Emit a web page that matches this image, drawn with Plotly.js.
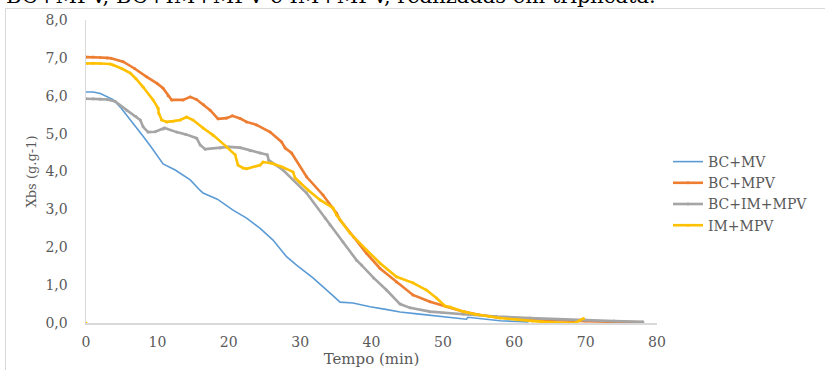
<!DOCTYPE html>
<html>
<head>
<meta charset="utf-8">
<script src="https://cdn.plot.ly/plotly-3.0.1.min.js"></script>
<style>
  html, body { margin: 0; padding: 0; background: #ffffff; }
  #chart { width: 825px; height: 370px; }
</style>
</head>
<body>
<div id="chart"></div>
<script>
// ---- Data ----
const seriesNames = ["BC+MV", "BC+MPV", "BC+IM+MPV", "IM+MPV"];

const tBCMV = [0, 1, 2, 3, 3.8, 4.8, 6, 7, 8, 9, 10, 10.8, 12.5, 14.6, 16, 16.4, 18.4, 20.6, 22.5, 24.4, 26.2, 28.1, 29.5, 31.8, 34.2, 35.6, 37.4, 39.8, 42, 44, 46.4, 48.5, 50.5, 53.3, 53.5, 56, 58, 60.4, 62];
const xBCMV = [6.1, 6.1, 6.06, 5.98, 5.9, 5.7, 5.42, 5.18, 4.93, 4.68, 4.42, 4.2, 4.04, 3.78, 3.5, 3.43, 3.27, 2.98, 2.77, 2.5, 2.19, 1.75, 1.53, 1.19, 0.79, 0.55, 0.53, 0.43, 0.36, 0.29, 0.24, 0.2, 0.17, 0.1, 0.15, 0.09, 0.06, 0.04, 0.03];

const tBCMPV = [0, 1, 2, 3, 3.5, 5.2, 6.8, 8.5, 10, 10.8, 11.5, 12, 13.6, 14.6, 15.5, 16.5, 17.4, 18.5, 19.7, 20.5, 21.6, 22.5, 23.9, 25.8, 27.4, 27.9, 28.8, 30.9, 33.2, 35.1, 35.6, 37.5, 39.3, 41.2, 43.5, 45.8, 48.2, 50.5, 52.9, 55, 57.5, 62.2, 66, 70, 74, 78];
const xBCMPV = [7.02, 7.02, 7.01, 7.0, 6.99, 6.9, 6.72, 6.5, 6.32, 6.2, 6.0, 5.89, 5.89, 5.97, 5.9, 5.76, 5.62, 5.39, 5.41, 5.47, 5.4, 5.31, 5.23, 5.04, 4.78, 4.62, 4.49, 3.86, 3.38, 2.9, 2.72, 2.27, 1.84, 1.44, 1.08, 0.74, 0.56, 0.43, 0.3, 0.22, 0.15, 0.1, 0.07, 0.05, 0.03, 0.02];

const tBCIMMPV = [0, 1, 2, 3, 4.1, 5.7, 7, 7.6, 8, 8.7, 9.7, 10.8, 11, 12.7, 14, 15.5, 16, 16.7, 18.8, 20, 21.6, 23, 24.4, 25.4, 25.6, 27.6, 30.9, 33.5, 34.2, 36, 37.9, 38.6, 40.3, 42.1, 44, 45.4, 48.2, 52.9, 57.5, 62.2, 66, 70, 74, 78];
const xBCIMMPV = [5.92, 5.92, 5.91, 5.9, 5.85, 5.62, 5.45, 5.36, 5.18, 5.04, 5.05, 5.12, 5.15, 5.04, 4.98, 4.88, 4.7, 4.59, 4.62, 4.65, 4.63, 4.55, 4.49, 4.44, 4.3, 4.04, 3.43, 2.77, 2.59, 2.14, 1.66, 1.53, 1.19, 0.87, 0.5, 0.4, 0.3, 0.23, 0.17, 0.13, 0.1, 0.08, 0.05, 0.03];

// first point (0; 0) is an isolated point, separated from the curve by a gap
const tIMMPV = [0, 0, 0, 1, 2, 3.4, 3.8, 5, 6.2, 7, 8, 9.4, 10.1, 10.2, 10.6, 11.3, 12.2, 13.2, 14.1, 15, 16.4, 17.8, 19.7, 20.9, 21.3, 22, 22.5, 24.4, 24.8, 26, 27.5, 29, 29.3, 30, 31.1, 32.8, 34.6, 35.1, 37, 39.3, 41.2, 43.5, 45.8, 47.7, 49.1, 50.3, 51, 52.9, 54.5, 56.6, 58, 60.4, 62.6, 64, 66, 68.5, 69.2, 69.7];
const xIMMPV = [0, null, 6.85, 6.86, 6.85, 6.84, 6.81, 6.72, 6.6, 6.45, 6.23, 5.89, 5.67, 5.54, 5.36, 5.31, 5.33, 5.36, 5.44, 5.36, 5.15, 4.96, 4.65, 4.44, 4.17, 4.09, 4.07, 4.17, 4.25, 4.22, 4.12, 3.99, 3.83, 3.7, 3.51, 3.25, 3.04, 2.85, 2.37, 1.93, 1.58, 1.22, 1.06, 0.87, 0.66, 0.45, 0.42, 0.3, 0.23, 0.17, 0.13, 0.09, 0.05, 0.03, 0.01, 0.0, 0.07, 0.12];

const xTickVals = [0, 10, 20, 30, 40, 50, 60, 70, 80];
const yTickVals = [0, 1, 2, 3, 4, 5, 6, 7, 8];

const captionText = "BC+MPV, BC+IM+MPV e IM+MPV, realizadas em triplicata.";
const xTitle = "Tempo (min)";
const yTitle = "Xbs (g.g-1)";

// ---- Plot ----
const colors = ["#5B9BD5", "#ED7D31", "#A5A5A5", "#FFC000"];
const serif = "DejaVu Serif, Liberation Serif, serif";

const traces = [
  { x: tBCMV, y: xBCMV, name: seriesNames[0], mode: "lines", line: { color: colors[0], width: 1.6 } },
  { x: tBCMPV, y: xBCMPV, name: seriesNames[1], mode: "lines+markers", line: { color: colors[1], width: 2.6 }, marker: { color: colors[1], size: 3 } },
  { x: tBCIMMPV, y: xBCIMMPV, name: seriesNames[2], mode: "lines+markers", line: { color: colors[2], width: 2.6 }, marker: { color: colors[2], size: 3 } },
  { x: tIMMPV, y: xIMMPV, name: seriesNames[3], mode: "lines+markers", line: { color: colors[3], width: 2.6 }, marker: { color: colors[3], size: 3 }, connectgaps: false }
];

// plot area: left 86, right 657, top 20, bottom 323 (page px)
const W = 825, H = 370;
const L = 86, R = 657, T = 20, B = 323;
const px2x = p => (p - L) / (R - L);
const py2y = p => (B - p) / (B - T);

const layout = {
  width: W, height: H,
  margin: { l: L, r: W - R, t: T, b: H - B, pad: 0 },
  paper_bgcolor: "#ffffff",
  plot_bgcolor: "#ffffff",
  separators: ",.",
  font: { family: serif, color: "#595959", size: 14 },
  showlegend: true,
  legend: {
    xref: "container", yref: "container",
    x: 668 / W, xanchor: "left",
    y: 1 - 146 / H, yanchor: "top",
    font: { family: serif, size: 14, color: "#595959" },
    bgcolor: "rgba(0,0,0,0)",
    itemwidth: 30,
    tracegroupgap: 0
  },
  xaxis: {
    range: [0, 80], tickvals: xTickVals, ticks: "", showgrid: false, zeroline: false,
    showline: true, linecolor: "#d9d9d9", linewidth: 1.5,
    tickfont: { family: serif, size: 14, color: "#595959" },
    ticklabelstandoff: 6,
    title: { text: xTitle, font: { family: serif, size: 15, color: "#595959" }, standoff: 4 },
    automargin: false, fixedrange: true
  },
  yaxis: {
    range: [0, 8], tickvals: yTickVals, tickformat: ".1f", ticks: "", showgrid: false, zeroline: false,
    showline: true, linecolor: "#d9d9d9", linewidth: 1.5,
    tickfont: { family: serif, size: 14, color: "#595959" },
    ticklabelstandoff: 14,
    title: { text: yTitle, font: { family: serif, size: 13, color: "#595959" }, standoff: 6 },
    automargin: false, fixedrange: true
  },
  shapes: [{
    type: "rect", xref: "paper", yref: "paper",
    x0: px2x(5.5), x1: px2x(840), y0: py2y(390), y1: py2y(8.5),
    line: { color: "#d9d9d9", width: 1 }, fillcolor: "rgba(0,0,0,0)", layer: "below"
  }],
  annotations: [{
    text: captionText, xref: "paper", yref: "paper",
    x: px2x(4), xanchor: "left", y: py2y(-4), yanchor: "middle",
    showarrow: false, font: { family: serif, size: 21, color: "#000000" }
  }]
};

Plotly.newPlot("chart", traces, layout, { displayModeBar: false, staticPlot: true });
</script>
</body>
</html>
